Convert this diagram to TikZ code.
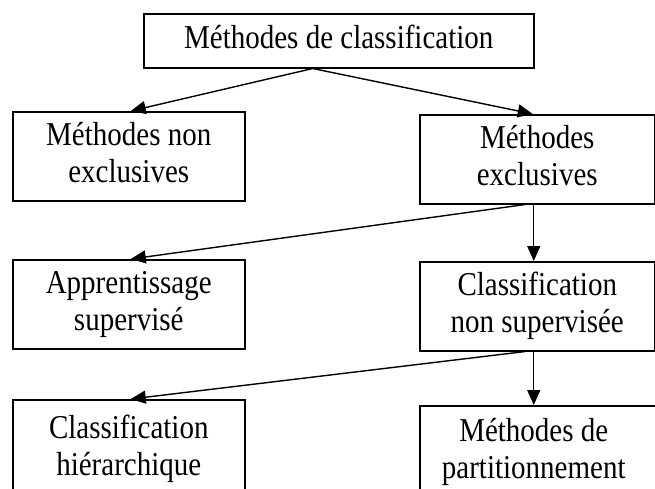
\documentclass[tikz,border=0pt]{standalone}
\usepackage{fontspec}
\usepackage{graphicx}
\setmainfont{Liberation Serif}
\usetikzlibrary{arrows.meta,calc}
% box label: centred lines, set slightly tall
\newcommand\boxlabel[1]{\scalebox{1}[1.15]{\begin{tabular}{@{}c@{}}#1\end{tabular}}}
\begin{document}
\begin{tikzpicture}[x=1pt,y=-1pt,
  box/.style={draw, line width=1.5pt, anchor=north west, inner sep=0pt,
    font=\fontsize{29}{32}\selectfont},
  arr/.style={line width=1.4pt, -{Triangle[length=15pt,width=13pt]}}]
\useasboundingbox (0,0) rectangle (655,488);
\clip (0,0) rectangle (655,488);

% boxes
\node[box, minimum width=390pt, minimum height=54pt] (top) at (143,13) {\boxlabel{Méthodes de classification}};
\node[box, minimum width=232pt, minimum height=89pt] (l1) at (12,111) {\boxlabel{Méthodes non\\exclusives}};
\node[box, minimum width=235pt, minimum height=89pt] (r1) at (419,114) {\boxlabel{Méthodes\\exclusives}};
\node[box, minimum width=232pt, minimum height=89pt] (l2) at (12,259) {\boxlabel{Apprentissage\\supervisé}};
\node[box, minimum width=235pt, minimum height=89pt] (r2) at (419,261) {\boxlabel{Classification\\non supervisée}};
\node[box, minimum width=232pt, minimum height=100pt] (l3) at (12,399) {\boxlabel{Classification\\hiérarchique}};
\node[box, minimum width=242pt, minimum height=94pt] (r3) at (419,405) {\boxlabel{Méthodes de\\partitionnement}\hspace*{14pt}};

% connectors
\coordinate (fork) at ([xshift=-26pt]top.south);
\draw[arr] (fork) -- ([xshift=2pt]l1.north);
\draw[arr] (fork) -- ([xshift=-4.5pt]r1.north);
\draw[arr] ([xshift=-12pt]r1.south) -- ([xshift=2pt]l2.north);
\draw[arr] ([xshift=-3.5pt]r1.south) -- ([xshift=-3.5pt]r2.north);
\draw[arr] ([xshift=-12pt]r2.south) -- ([xshift=2pt]l3.north);
\draw[arr] ([xshift=-3.5pt]r2.south) -- ([xshift=-7pt]r3.north);
\end{tikzpicture}
\end{document}
